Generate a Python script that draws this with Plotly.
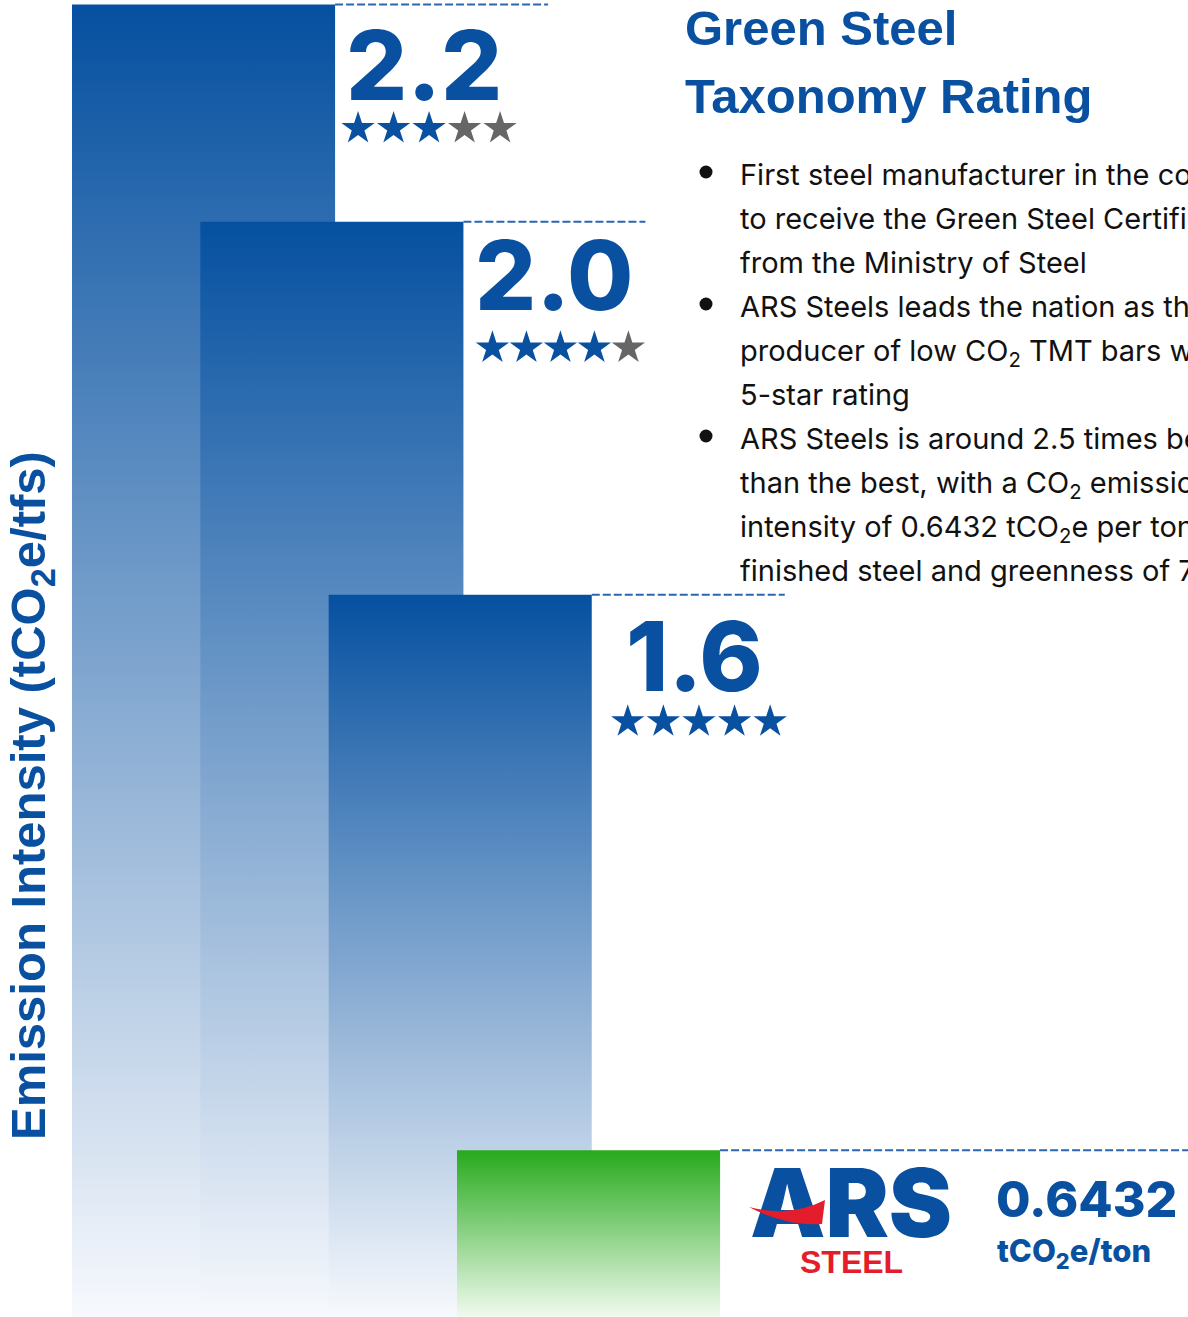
import plotly.graph_objects as go

W, H = 1188, 1317

# emission intensity, tCO2e per tonne of finished steel (last bar = ARS Steel)
intensity = [2.2, 2.0, 1.6, 0.6432]
value_text = ["2.2", "2.0", "1.6"]
stars_blue = [3, 4, 5]          # filled stars out of 5

y_title = "Emission Intensity (tCO<sub>2</sub>e/tfs)"
title_lines = ["Green Steel", "Taxonomy Rating"]
bullets = [
    ["First steel manufacturer in the country",
     "to receive the Green Steel Certificate",
     "from the Ministry of Steel"],
    ["ARS Steels leads the nation as the",
     "producer of low CO<sub>2</sub> TMT bars with",
     "5-star rating"],
    ["ARS Steels is around 2.5 times better",
     "than the best, with a CO<sub>2</sub> emission",
     "intensity of 0.6432 tCO<sub>2</sub>e per ton of",
     "finished steel and greenness of 75%"],
]
ars_value = "0.6432"
ars_unit = "tCO<sub>2</sub>e/ton"

BLUE = "#0a50a0"
STAR_GREY = "#666666"
DASH_BLUE = "#2b66b1"
RED = "#e31d2b"

X_RANGE = [-0.561, 8.696]
Y_RANGE = [-0.23, 4.857]
BAR_W = 2.05
PX_X = W / (X_RANGE[1] - X_RANGE[0])
PX_Y = H / (Y_RANGE[1] - Y_RANGE[0])


def x_at(px):
    return X_RANGE[0] + px / PX_X


def y_at(py):
    return Y_RANGE[1] - py / PX_Y


def P(px, py):
    return f"{px / W:.5f},{1 - py / H:.5f}"


# the artwork exaggerates the gaps: bar height follows the square of the intensity
tops = [v ** 2 for v in intensity]

fig = go.Figure()

for i, top in enumerate(tops):
    if i == len(tops) - 1:
        scale = [[0, "#f1faef"], [1, "#27aa1d"]]
    else:
        scale = [[0, "#f7f9fd"], [1, "#0550a0"]]
    fig.add_trace(go.Scatter(
        x=[i, i + BAR_W, i + BAR_W, i, i],
        y=[Y_RANGE[0], Y_RANGE[0], top, top, Y_RANGE[0]],
        mode="lines", line=dict(width=0), fill="toself",
        fillgradient=dict(type="vertical", colorscale=scale),
        hoverinfo="skip"))

# dashed guide lines from each bar top
DASH_LEN = [213, 182, 193, 520]
for i, top in enumerate(tops):
    fig.add_trace(go.Scatter(
        x=[i + BAR_W, i + BAR_W + DASH_LEN[i] / PX_X], y=[top, top],
        mode="lines", line=dict(color=DASH_BLUE, width=2, dash="8px,3px"),
        hoverinfo="skip"))

# value labels and star ratings
LABEL_DX = [9, 10, 32]
LABEL_DY = [61, 53, 61]
STAR_DX = [23, 29, 36]
STAR_DY = [124, 126, 127]
STAR_STEP = [35.5, 34, 35.6]
annotations = []
for i, txt in enumerate(value_text):
    annotations.append(dict(
        x=i + BAR_W, y=tops[i], xref="x", yref="y", text=txt, showarrow=False,
        xanchor="left", yanchor="middle", xshift=LABEL_DX[i], yshift=-LABEL_DY[i],
        font=dict(family="Inter", size=96, color=BLUE, weight=800)))
    xs = [i + BAR_W + (STAR_DX[i] + k * STAR_STEP[i]) / PX_X for k in range(5)]
    ys = [tops[i] - STAR_DY[i] / PX_Y] * 5
    cols = [BLUE if k < stars_blue[i] else STAR_GREY for k in range(5)]
    fig.add_trace(go.Scatter(
        x=xs, y=ys, mode="markers", hoverinfo="skip",
        marker=dict(symbol="star", size=25, color=cols, line=dict(width=0))))

# ARS logo word (as trace so the swoosh shape can sit above it)
fig.add_trace(go.Scatter(
    x=[x_at(851)], y=[y_at(1213)], mode="text", text=["ARS"],
    textposition="middle center", hoverinfo="skip",
    textfont=dict(family="Inter", size=95, color=BLUE, weight=900)))

shapes = [dict(
    type="path", xref="paper", yref="paper", layer="above",
    path=f"M {P(749, 1207)} Q {P(790, 1218)} {P(825, 1200)} L {P(822, 1224)} "
         f"Q {P(785, 1226)} {P(749, 1207)} Z",
    fillcolor=RED, line=dict(width=0))]

annotations.append(dict(
    x=851 / W, y=1 - 1261.5 / H, xref="paper", yref="paper", text="STEEL",
    showarrow=False, xanchor="center", yanchor="middle",
    font=dict(family="Liberation Sans", size=32, color=RED, weight="bold")))

annotations.append(dict(
    x=994 / W, y=1 - 1199 / H, xref="paper", yref="paper", text=ars_value,
    showarrow=False, xanchor="left", yanchor="middle",
    font=dict(family="Inter", size=50, color=BLUE, weight=800)))
annotations.append(dict(
    x=995 / W, y=1 - 1229.5 / H, xref="paper", yref="paper", text=ars_unit,
    showarrow=False, xanchor="left", yanchor="top",
    font=dict(family="Inter", size=31, color=BLUE, weight=800)))

# title
for n, line in enumerate(title_lines):
    annotations.append(dict(
        x=683 / W, y=1 - (-1 + 68 * n) / H, xref="paper", yref="paper", text=line,
        showarrow=False, xanchor="left", yanchor="top",
        font=dict(family="Liberation Sans", size=49, color=BLUE, weight="bold")))

# bullet points
F = 29
n = 0
for block in bullets:
    base = 184 + 44 * n
    shapes.append(dict(type="circle", xref="paper", yref="paper",
                       x0=(706 - 6.5) / W, x1=(706 + 6.5) / W,
                       y0=1 - (base - 12 + 6.5) / H, y1=1 - (base - 12 - 6.5) / H,
                       fillcolor="#111111", line=dict(width=0)))
    for line in block:
        base = 184 + 44 * n
        annotations.append(dict(
            x=738 / W, y=1 - (base - 0.969 * F - 1) / H, xref="paper", yref="paper",
            text=line, showarrow=False, xanchor="left", yanchor="top",
            font=dict(family="Inter", size=F, color="#111111")))
        n += 1

# vertical axis title
annotations.append(dict(
    x=31 / W, y=1 - 796 / H, xref="paper", yref="paper", text=y_title,
    showarrow=False, textangle=-90, xanchor="center", yanchor="middle",
    font=dict(family="Liberation Sans", size=49, color=BLUE, weight="bold")))

fig.update_layout(
    width=W, height=H, margin=dict(l=0, r=0, t=0, b=0),
    paper_bgcolor="white", plot_bgcolor="white", showlegend=False,
    xaxis=dict(range=X_RANGE, visible=False, fixedrange=True),
    yaxis=dict(range=Y_RANGE, visible=False, fixedrange=True),
    annotations=annotations, shapes=shapes)

fig.write_html("out.html", config={"displayModeBar": False},
               post_script="document.body.style.margin = '0';")
